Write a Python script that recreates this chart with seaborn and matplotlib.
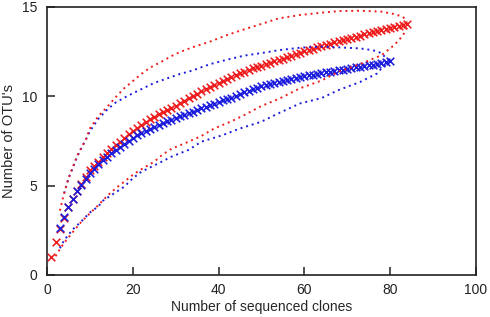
import matplotlib
matplotlib.use("Agg")
import matplotlib.pyplot as plt
import seaborn as sns

# ---------------------------
# data
# ---------------------------

red_clones = list(range(1, 85))
red_otus = [1.00, 1.85, 2.60, 3.20, 3.78, 4.25, 4.72, 5.10, 5.48, 5.85,
            6.10, 6.35, 6.58, 6.80, 7.03, 7.25, 7.47, 7.68, 7.90, 8.08,
            8.25, 8.42, 8.57, 8.72, 8.86, 9.00, 9.12, 9.24, 9.36, 9.48,
            9.62, 9.75, 9.88, 10.01, 10.14, 10.27, 10.40, 10.53, 10.64, 10.75,
            10.86, 10.97, 11.08, 11.18, 11.28, 11.38, 11.48, 11.56, 11.64, 11.72,
            11.80, 11.88, 11.96, 12.03, 12.11, 12.19, 12.27, 12.35, 12.43, 12.51,
            12.59, 12.67, 12.74, 12.81, 12.88, 12.95, 13.02, 13.08, 13.15, 13.21,
            13.28, 13.34, 13.40, 13.46, 13.52, 13.58, 13.64, 13.70, 13.76, 13.82,
            13.88, 13.94, 14.00, 14.06]

blue_clones = list(range(3, 81))
blue_otus = [2.65, 3.22, 3.80, 4.25, 4.70, 5.05, 5.37, 5.72, 5.96, 6.20,
             6.41, 6.62, 6.81, 7.00, 7.18, 7.35, 7.52, 7.68, 7.82, 7.95,
             8.07, 8.18, 8.29, 8.40, 8.50, 8.60, 8.70, 8.80, 8.89, 8.98,
             9.07, 9.15, 9.24, 9.32, 9.41, 9.50, 9.59, 9.68, 9.77, 9.85,
             9.93, 10.00, 10.11, 10.22, 10.31, 10.40, 10.48, 10.55, 10.62, 10.68,
             10.74, 10.80, 10.86, 10.91, 10.97, 11.02, 11.07, 11.12, 11.17, 11.21,
             11.26, 11.30, 11.34, 11.38, 11.42, 11.46, 11.50, 11.54, 11.58, 11.62,
             11.66, 11.70, 11.74, 11.78, 11.82, 11.86, 11.90, 11.95]

# confidence bounds (dotted)
red_up_x = [3, 4, 5, 6, 7, 8, 9, 10, 12, 14, 16, 18, 20, 22, 24, 27, 29, 31, 34, 38,
            42, 46, 50, 54, 59, 64, 68, 73, 78, 81, 83, 84]
red_up_y = [3.6, 4.6, 5.4, 6.03, 6.66, 7.12, 7.55, 8.2, 8.9, 9.4, 9.95, 10.45, 10.85, 11.25,
            11.6, 11.98, 12.25, 12.48, 12.75, 13.06, 13.43, 13.75, 14.05, 14.36, 14.55,
            14.68, 14.77, 14.79, 14.74, 14.6, 14.45, 14.2]
red_lo_x = [2, 3, 4, 6, 8, 10, 12, 14, 16, 18, 20, 22, 25, 27, 29, 33, 36, 39, 43, 46,
            50, 54, 59, 64, 68, 73, 78, 81, 83, 84]
red_lo_y = [1.05, 1.45, 1.8, 2.4, 2.98, 3.45, 3.92, 4.42, 4.85, 5.22, 5.6, 5.92, 6.34,
            6.75, 7.06, 7.46, 7.78, 8.2, 8.6, 8.95, 9.46, 9.85, 10.45, 10.88, 11.38,
            11.8, 12.3, 12.87, 13.4, 13.9]
blue_up_x = [4, 5, 6, 7, 8, 9, 10, 12, 14, 16, 19, 22, 25, 28, 31, 34, 38, 42, 46, 50,
             54, 59, 64, 68, 73, 76, 78, 79, 80]
blue_up_y = [4.57, 5.4, 6.0, 6.6, 7.1, 7.55, 8.05, 8.75, 9.25, 9.65, 10.05, 10.4, 10.75,
             11.0, 11.25, 11.45, 11.8, 12.05, 12.28, 12.42, 12.58, 12.72, 12.78, 12.74,
             12.68, 12.58, 12.42, 12.15, 11.98]
blue_lo_x = [3, 4, 5, 6, 8, 10, 12, 13, 18, 20, 22, 26, 29, 33, 36, 41, 45, 50, 54, 59,
             64, 68, 73, 77, 78, 80]
blue_lo_y = [1.5, 1.95, 2.25, 2.55, 3.0, 3.5, 3.85, 4.15, 4.94, 5.41, 5.78, 6.25, 6.62,
             7.0, 7.46, 7.83, 8.2, 8.58, 9.05, 9.6, 9.9, 10.35, 10.8, 11.28, 11.56, 11.95]

RED = "#ee1c1c"
BLUE = "#1c1cdc"

sns.set_theme(style="ticks")
plt.rcParams["font.family"] = ["Liberation Sans", "DejaVu Sans"]

fig, ax = plt.subplots(figsize=(4.9, 3.17), dpi=100)
fig.subplots_adjust(left=0.096, right=0.971, bottom=0.1325, top=0.978)

# mean curves with x markers
sns.scatterplot(x=red_clones, y=red_otus, marker="x", s=30, linewidth=1.15,
                color=RED, ax=ax, zorder=3)
sns.scatterplot(x=blue_clones, y=blue_otus, marker="x", s=30, linewidth=1.15,
                color=BLUE, ax=ax, zorder=3)

# dotted bounds
dot = (0, (1, 2))
for xs, ys, c in [(blue_up_x, blue_up_y, BLUE), (blue_lo_x, blue_lo_y, BLUE),
                  (red_up_x, red_up_y, RED), (red_lo_x, red_lo_y, RED)]:
    sns.lineplot(x=xs, y=ys, color=c, linewidth=1.4, linestyle=dot,
                 ax=ax, zorder=4)

ax.set_xlim(0, 100)
ax.set_ylim(0, 15)
ax.set_xticks([0, 20, 40, 60, 80, 100])
ax.set_yticks([0, 5, 10, 15])
ax.tick_params(direction="in", length=6, width=1.1, labelsize=10,
               colors="#222222")
ax.tick_params(axis="y", pad=7)
ax.tick_params(axis="x", pad=6)
for sp in ax.spines.values():
    sp.set_linewidth(1.2)
    sp.set_color("#222222")

ax.set_xlabel("Number of sequenced clones", fontsize=10, labelpad=2)
ax.set_ylabel("Number of OTU's", fontsize=10.5, labelpad=4)

fig.savefig("out.png", dpi=100)
